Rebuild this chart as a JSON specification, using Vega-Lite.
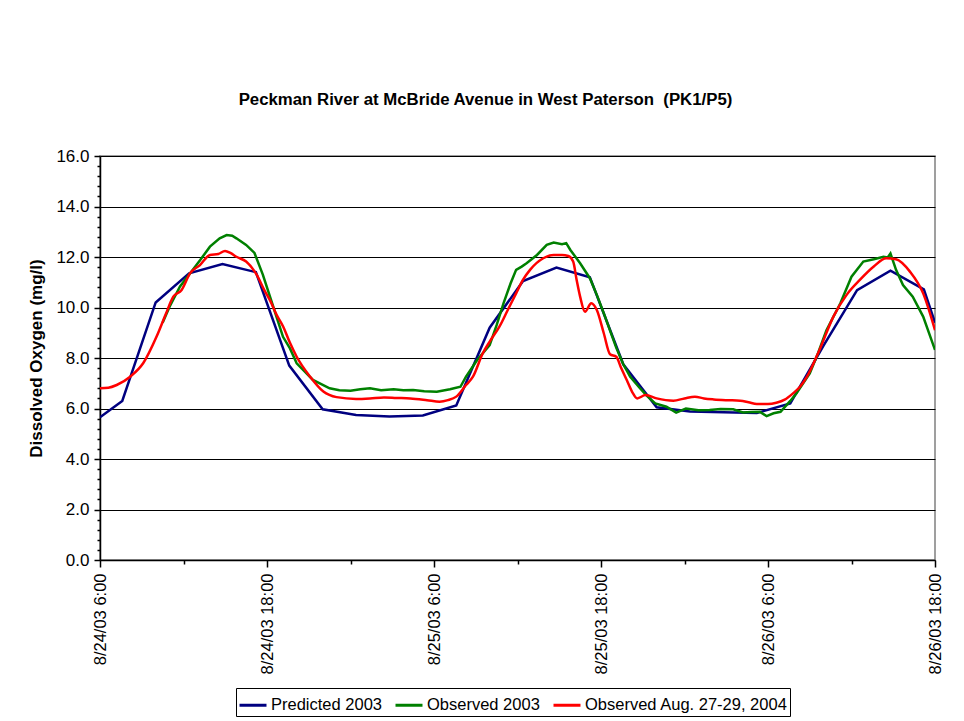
{
  "$schema": "https://vega.github.io/schema/vega-lite/v6.json",
  "autosize": {"type": "none"},
  "width": 835,
  "height": 404,
  "padding": {"left": 100, "top": 156, "right": 29, "bottom": 161},
  "background": "white",
  "config": {
    "font": "Liberation Sans",
    "view": {"stroke": "#808080", "strokeWidth": 1.5},
    "axis": {"labelColor": "black", "titleColor": "black", "domainColor": "black", "tickColor": "black", "domainWidth": 1.5, "tickWidth": 1.5}
  },
  "title": {
    "text": "Peckman River at McBride Avenue in West Paterson \u00a0(PK1/P5)",
    "fontSize": 16.8,
    "fontWeight": "bold",
    "color": "black",
    "anchor": "middle",
    "dx": -32,
    "offset": 38
  },
  "encoding": {
    "x": {
      "field": "t",
      "type": "temporal",
      "scale": {"domain": [{"year": 2003, "month": 8, "date": 24, "hours": 6}, {"year": 2003, "month": 8, "date": 26, "hours": 18}], "nice": false},
      "axis": {
        "title": null,
        "grid": false,
        "values": [
          {"year": 2003, "month": 8, "date": 24, "hours": 6},
          {"year": 2003, "month": 8, "date": 24, "hours": 12},
          {"year": 2003, "month": 8, "date": 24, "hours": 18},
          {"year": 2003, "month": 8, "date": 25, "hours": 0},
          {"year": 2003, "month": 8, "date": 25, "hours": 6},
          {"year": 2003, "month": 8, "date": 25, "hours": 12},
          {"year": 2003, "month": 8, "date": 25, "hours": 18},
          {"year": 2003, "month": 8, "date": 26, "hours": 0},
          {"year": 2003, "month": 8, "date": 26, "hours": 6},
          {"year": 2003, "month": 8, "date": 26, "hours": 12},
          {"year": 2003, "month": 8, "date": 26, "hours": 18}
        ],
        "labelExpr": "(hours(datum.value) == 6 || hours(datum.value) == 18) ? timeFormat(datum.value, '%-m/%d/%y %-H:%M') : ''",
        "labelAngle": 270,
        "labelFontSize": 16.5,
        "labelPadding": 6,
        "labelOverlap": false,
        "labelFlush": false,
        "tickSize": {"condition": {"test": "hours(datum.value) == 6 || hours(datum.value) == 18", "value": 7}, "value": 4}
      }
    },
    "y": {
      "field": "v",
      "type": "quantitative",
      "scale": {"domain": [0, 16], "nice": false, "zero": true},
      "axis": {
        "title": "Dissolved Oxygen (mg/l)",
        "titleFontSize": 17,
        "titleFontWeight": "bold",
        "titlePadding": 10,
        "values": [0,0.4,0.8,1.2,1.6,2,2.4,2.8,3.2,3.6,4,4.4,4.8,5.2,5.6,6,6.4,6.8,7.2,7.6,8,8.4,8.8,9.2,9.6,10,10.4,10.8,11.2,11.6,12,12.4,12.8,13.2,13.6,14,14.4,14.8,15.2,15.6,16],
        "labelExpr": "abs(datum.value/2 - round(datum.value/2)) < 0.01 ? format(datum.value, '.1f') : ''",
        "labelFontSize": 17,
        "labelPadding": 5,
        "labelOverlap": false,
        "labelFlush": false,
        "grid": true,
        "gridColor": "black",
        "gridWidth": 1,
        "gridOpacity": {"condition": {"test": "abs(datum.value/2 - round(datum.value/2)) < 0.01", "value": 1}, "value": 0},
        "tickSize": {"condition": {"test": "abs(datum.value/2 - round(datum.value/2)) < 0.01", "value": 6}, "value": 3}
      }
    },
    "color": {
      "type": "nominal",
      "scale": {"domain": ["Predicted 2003", "Observed 2003", "Observed Aug. 27-29, 2004"], "range": ["#000080", "#008000", "#FF0000"]},
      "legend": {
        "title": null,
        "orient": "none",
        "direction": "horizontal",
        "legendX": 136,
        "legendY": 532,
        "strokeColor": "black",
        "fillColor": "white",
        "padding": 2,
        "symbolType": "stroke",
        "symbolSize": 729,
        "symbolStrokeWidth": 3,
        "labelFontSize": 16.5,
        "labelColor": "black",
        "labelOffset": 3,
        "columnPadding": 7,
        "labelLimit": 400
      }
    }
  },
  "layer": [
    {
      "data": {"values": [
        {"t": "2003-08-24T06:00", "v": 5.65},
        {"t": "2003-08-24T07:36", "v": 6.3},
        {"t": "2003-08-24T10:00", "v": 10.2},
        {"t": "2003-08-24T12:24", "v": 11.35},
        {"t": "2003-08-24T14:48", "v": 11.72},
        {"t": "2003-08-24T17:12", "v": 11.4},
        {"t": "2003-08-24T19:36", "v": 7.7},
        {"t": "2003-08-24T22:00", "v": 5.97},
        {"t": "2003-08-25T00:24", "v": 5.74},
        {"t": "2003-08-25T02:48", "v": 5.68},
        {"t": "2003-08-25T05:12", "v": 5.72},
        {"t": "2003-08-25T07:36", "v": 6.12},
        {"t": "2003-08-25T10:00", "v": 9.2},
        {"t": "2003-08-25T12:24", "v": 11.05},
        {"t": "2003-08-25T14:48", "v": 11.58},
        {"t": "2003-08-25T17:12", "v": 11.2},
        {"t": "2003-08-25T19:36", "v": 7.75},
        {"t": "2003-08-25T22:00", "v": 6.05},
        {"t": "2003-08-26T00:24", "v": 5.88},
        {"t": "2003-08-26T02:48", "v": 5.85},
        {"t": "2003-08-26T05:12", "v": 5.82},
        {"t": "2003-08-26T07:36", "v": 6.2},
        {"t": "2003-08-26T10:00", "v": 8.5},
        {"t": "2003-08-26T12:24", "v": 10.69},
        {"t": "2003-08-26T14:48", "v": 11.46},
        {"t": "2003-08-26T17:12", "v": 10.72},
        {"t": "2003-08-26T18:00", "v": 9.4}
      ]},
      "mark": {"type": "line", "strokeWidth": 2.5, "clip": true},
      "encoding": {"color": {"datum": "Predicted 2003"}}
    },
    {
      "data": {"values": [
        {"t": "2003-08-24T10:30", "v": 9.4},
        {"t": "2003-08-24T11:00", "v": 10.03},
        {"t": "2003-08-24T11:45", "v": 10.83},
        {"t": "2003-08-24T12:28", "v": 11.35},
        {"t": "2003-08-24T13:12", "v": 11.88},
        {"t": "2003-08-24T13:54", "v": 12.41},
        {"t": "2003-08-24T14:36", "v": 12.74},
        {"t": "2003-08-24T15:06", "v": 12.87},
        {"t": "2003-08-24T15:30", "v": 12.84},
        {"t": "2003-08-24T15:48", "v": 12.74},
        {"t": "2003-08-24T16:30", "v": 12.48},
        {"t": "2003-08-24T17:06", "v": 12.16},
        {"t": "2003-08-24T17:42", "v": 11.3},
        {"t": "2003-08-24T18:27", "v": 10.03},
        {"t": "2003-08-24T19:09", "v": 8.84},
        {"t": "2003-08-24T19:39", "v": 8.38},
        {"t": "2003-08-24T20:08", "v": 7.79},
        {"t": "2003-08-24T21:18", "v": 7.13},
        {"t": "2003-08-24T22:30", "v": 6.8},
        {"t": "2003-08-24T23:12", "v": 6.72},
        {"t": "2003-08-25T00:00", "v": 6.7},
        {"t": "2003-08-25T00:42", "v": 6.76},
        {"t": "2003-08-25T01:24", "v": 6.8},
        {"t": "2003-08-25T02:12", "v": 6.72},
        {"t": "2003-08-25T03:06", "v": 6.76},
        {"t": "2003-08-25T03:48", "v": 6.72},
        {"t": "2003-08-25T04:30", "v": 6.73},
        {"t": "2003-08-25T05:18", "v": 6.68},
        {"t": "2003-08-25T06:12", "v": 6.66},
        {"t": "2003-08-25T07:09", "v": 6.76},
        {"t": "2003-08-25T07:54", "v": 6.86},
        {"t": "2003-08-25T08:18", "v": 7.26},
        {"t": "2003-08-25T09:06", "v": 7.92},
        {"t": "2003-08-25T10:00", "v": 8.51},
        {"t": "2003-08-25T10:30", "v": 9.3},
        {"t": "2003-08-25T11:00", "v": 10.17},
        {"t": "2003-08-25T11:30", "v": 10.95},
        {"t": "2003-08-25T11:54", "v": 11.49},
        {"t": "2003-08-25T12:18", "v": 11.62},
        {"t": "2003-08-25T12:39", "v": 11.75},
        {"t": "2003-08-25T13:24", "v": 12.08},
        {"t": "2003-08-25T14:06", "v": 12.48},
        {"t": "2003-08-25T14:36", "v": 12.57},
        {"t": "2003-08-25T15:12", "v": 12.51},
        {"t": "2003-08-25T15:30", "v": 12.55},
        {"t": "2003-08-25T15:48", "v": 12.28},
        {"t": "2003-08-25T16:30", "v": 11.75},
        {"t": "2003-08-25T17:12", "v": 11.16},
        {"t": "2003-08-25T17:42", "v": 10.5},
        {"t": "2003-08-25T18:12", "v": 9.77},
        {"t": "2003-08-25T19:06", "v": 8.4},
        {"t": "2003-08-25T19:36", "v": 7.75},
        {"t": "2003-08-25T20:06", "v": 7.26},
        {"t": "2003-08-25T20:48", "v": 6.8},
        {"t": "2003-08-25T21:18", "v": 6.5},
        {"t": "2003-08-25T21:54", "v": 6.2},
        {"t": "2003-08-25T22:42", "v": 6.07},
        {"t": "2003-08-25T23:24", "v": 5.84},
        {"t": "2003-08-26T00:06", "v": 6.0},
        {"t": "2003-08-26T01:00", "v": 5.93},
        {"t": "2003-08-26T01:48", "v": 5.94},
        {"t": "2003-08-26T02:36", "v": 5.98},
        {"t": "2003-08-26T03:30", "v": 5.97},
        {"t": "2003-08-26T04:12", "v": 5.84},
        {"t": "2003-08-26T04:48", "v": 5.86},
        {"t": "2003-08-26T05:24", "v": 5.87},
        {"t": "2003-08-26T05:54", "v": 5.7},
        {"t": "2003-08-26T06:24", "v": 5.81},
        {"t": "2003-08-26T06:54", "v": 5.87},
        {"t": "2003-08-26T07:36", "v": 6.3},
        {"t": "2003-08-26T08:03", "v": 6.6},
        {"t": "2003-08-26T09:00", "v": 7.39},
        {"t": "2003-08-26T09:36", "v": 8.2},
        {"t": "2003-08-26T10:12", "v": 9.1},
        {"t": "2003-08-26T11:12", "v": 10.17},
        {"t": "2003-08-26T12:00", "v": 11.22},
        {"t": "2003-08-26T12:51", "v": 11.82},
        {"t": "2003-08-26T13:36", "v": 11.91},
        {"t": "2003-08-26T14:18", "v": 12.01},
        {"t": "2003-08-26T14:36", "v": 11.98},
        {"t": "2003-08-26T14:48", "v": 12.14},
        {"t": "2003-08-26T15:12", "v": 11.49},
        {"t": "2003-08-26T15:42", "v": 10.89},
        {"t": "2003-08-26T16:24", "v": 10.43},
        {"t": "2003-08-26T17:09", "v": 9.64},
        {"t": "2003-08-26T18:00", "v": 8.32}
      ]},
      "mark": {"type": "line", "strokeWidth": 2.5, "clip": true},
      "encoding": {"color": {"datum": "Observed 2003"}}
    },
    {
      "data": {"values": [
        {"t": "2003-08-24T06:00", "v": 6.8},
        {"t": "2003-08-24T06:36", "v": 6.82},
        {"t": "2003-08-24T07:12", "v": 6.93},
        {"t": "2003-08-24T08:10", "v": 7.26},
        {"t": "2003-08-24T09:06", "v": 7.79},
        {"t": "2003-08-24T10:04", "v": 8.85},
        {"t": "2003-08-24T10:42", "v": 9.7},
        {"t": "2003-08-24T11:16", "v": 10.43},
        {"t": "2003-08-24T11:52", "v": 10.69},
        {"t": "2003-08-24T12:28", "v": 11.35},
        {"t": "2003-08-24T13:11", "v": 11.68},
        {"t": "2003-08-24T13:54", "v": 12.08},
        {"t": "2003-08-24T14:30", "v": 12.12},
        {"t": "2003-08-24T14:59", "v": 12.24},
        {"t": "2003-08-24T15:24", "v": 12.15},
        {"t": "2003-08-24T15:48", "v": 12.01},
        {"t": "2003-08-24T16:30", "v": 11.82},
        {"t": "2003-08-24T17:16", "v": 11.29},
        {"t": "2003-08-24T17:48", "v": 10.7},
        {"t": "2003-08-24T18:12", "v": 10.3},
        {"t": "2003-08-24T18:42", "v": 9.7},
        {"t": "2003-08-24T19:10", "v": 9.24},
        {"t": "2003-08-24T19:39", "v": 8.6},
        {"t": "2003-08-24T20:08", "v": 8.05},
        {"t": "2003-08-24T21:06", "v": 7.26},
        {"t": "2003-08-24T22:03", "v": 6.67},
        {"t": "2003-08-24T23:00", "v": 6.45},
        {"t": "2003-08-25T00:24", "v": 6.38},
        {"t": "2003-08-25T01:24", "v": 6.4},
        {"t": "2003-08-25T02:24", "v": 6.44},
        {"t": "2003-08-25T03:18", "v": 6.42},
        {"t": "2003-08-25T04:18", "v": 6.4},
        {"t": "2003-08-25T05:30", "v": 6.33},
        {"t": "2003-08-25T06:24", "v": 6.27},
        {"t": "2003-08-25T07:00", "v": 6.33},
        {"t": "2003-08-25T07:36", "v": 6.47},
        {"t": "2003-08-25T08:18", "v": 6.93},
        {"t": "2003-08-25T08:48", "v": 7.26},
        {"t": "2003-08-25T09:30", "v": 8.18},
        {"t": "2003-08-25T10:00", "v": 8.65},
        {"t": "2003-08-25T10:42", "v": 9.24},
        {"t": "2003-08-25T11:18", "v": 9.9},
        {"t": "2003-08-25T11:54", "v": 10.56},
        {"t": "2003-08-25T12:24", "v": 11.1},
        {"t": "2003-08-25T12:54", "v": 11.49},
        {"t": "2003-08-25T13:51", "v": 11.95},
        {"t": "2003-08-25T14:36", "v": 12.08},
        {"t": "2003-08-25T15:12", "v": 12.08},
        {"t": "2003-08-25T15:39", "v": 12.04},
        {"t": "2003-08-25T16:00", "v": 11.82},
        {"t": "2003-08-25T16:15", "v": 11.09},
        {"t": "2003-08-25T16:30", "v": 10.43},
        {"t": "2003-08-25T16:51", "v": 9.83},
        {"t": "2003-08-25T17:18", "v": 10.17},
        {"t": "2003-08-25T17:42", "v": 9.9},
        {"t": "2003-08-25T18:12", "v": 8.98},
        {"t": "2003-08-25T18:39", "v": 8.15},
        {"t": "2003-08-25T19:06", "v": 8.05},
        {"t": "2003-08-25T19:27", "v": 7.6},
        {"t": "2003-08-25T19:51", "v": 7.13},
        {"t": "2003-08-25T20:18", "v": 6.6},
        {"t": "2003-08-25T20:36", "v": 6.4},
        {"t": "2003-08-25T21:12", "v": 6.53},
        {"t": "2003-08-25T22:00", "v": 6.4},
        {"t": "2003-08-25T23:12", "v": 6.31},
        {"t": "2003-08-26T00:00", "v": 6.4},
        {"t": "2003-08-26T00:45", "v": 6.47},
        {"t": "2003-08-26T01:24", "v": 6.4},
        {"t": "2003-08-26T02:06", "v": 6.36},
        {"t": "2003-08-26T03:00", "v": 6.33},
        {"t": "2003-08-26T04:00", "v": 6.31},
        {"t": "2003-08-26T04:36", "v": 6.25},
        {"t": "2003-08-26T05:12", "v": 6.18},
        {"t": "2003-08-26T06:00", "v": 6.18},
        {"t": "2003-08-26T06:36", "v": 6.23},
        {"t": "2003-08-26T07:12", "v": 6.35},
        {"t": "2003-08-26T07:48", "v": 6.6},
        {"t": "2003-08-26T08:18", "v": 6.86},
        {"t": "2003-08-26T08:48", "v": 7.26},
        {"t": "2003-08-26T09:42", "v": 8.32},
        {"t": "2003-08-26T10:42", "v": 9.64},
        {"t": "2003-08-26T11:39", "v": 10.5},
        {"t": "2003-08-26T12:36", "v": 11.09},
        {"t": "2003-08-26T13:36", "v": 11.62},
        {"t": "2003-08-26T14:30", "v": 11.95},
        {"t": "2003-08-26T15:12", "v": 11.91},
        {"t": "2003-08-26T16:12", "v": 11.42},
        {"t": "2003-08-26T17:09", "v": 10.56},
        {"t": "2003-08-26T18:00", "v": 9.1}
      ]},
      "mark": {"type": "line", "strokeWidth": 2.5, "clip": true, "interpolate": "monotone"},
      "encoding": {"color": {"datum": "Observed Aug. 27-29, 2004"}}
    }
  ]
}
